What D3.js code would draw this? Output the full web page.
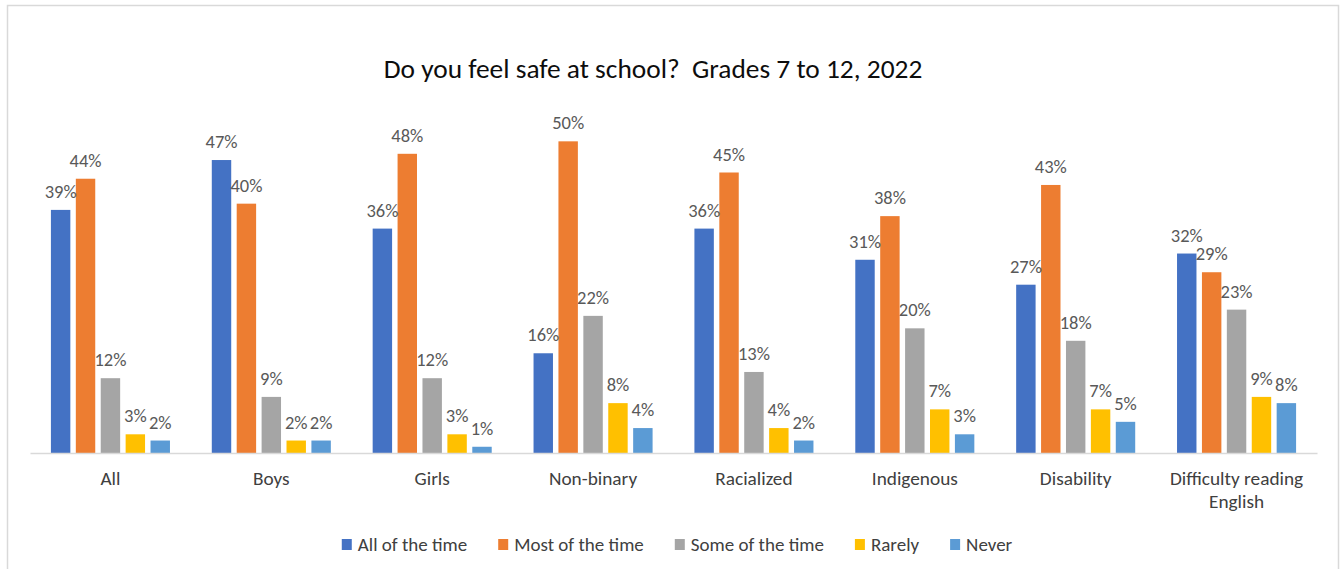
<!DOCTYPE html>
<html>
<head>
<meta charset="utf-8">
<script src="https://cdn.jsdelivr.net/npm/d3@7"></script>
<style>
  body { margin: 0; background: #fff; }
  svg text { font-family: Calibri, Carlito, "Open Sans", "Noto Sans", sans-serif; }
</style>
</head>
<body>
<div id="main"></div>
<script>
// data
var categories = ["All", "Boys", "Girls", "Non-binary", "Racialized", "Indigenous", "Disability", "Difficulty reading English"];
var seriesNames = ["All of the time", "Most of the time", "Some of the time", "Rarely", "Never"];
var allOfTheTime  = [39, 47, 36, 16, 36, 31, 27, 32];
var mostOfTheTime = [44, 40, 48, 50, 45, 38, 43, 29];
var someOfTheTime = [12, 9, 12, 22, 13, 20, 18, 23];
var rarely        = [3, 2, 3, 8, 4, 7, 7, 9];
var never         = [2, 2, 1, 4, 2, 3, 5, 8];
var seriesValues = [allOfTheTime, mostOfTheTime, someOfTheTime, rarely, never];
var colors = ["#4472c4", "#ed7d31", "#a5a5a5", "#ffc000", "#5b9bd5"];

var width = 1344;
var height = 569;

var svg = d3.select('#main')
  .append('svg')
  .attr('width', width)
  .attr('height', height);

// chart border
svg.append('rect')
  .attr('x', 7.5)
  .attr('y', 5.5)
  .attr('width', 1331)
  .attr('height', 580)
  .attr('fill', '#fff')
  .attr('stroke', '#d9d9d9')
  .attr('stroke-width', 1.5);

svg.append('text')
  .attr('x', 653)
  .attr('y', 78)
  .attr('text-anchor', 'middle')
  .attr('font-size', 27.4)
  .attr('fill', '#0d0d0d')
  .attr('xml:space', 'preserve')
  .text("Do you feel safe at school?  Grades 7 to 12, 2022");

var x0 = d3.scaleBand()
  .domain(categories)
  .range([30, 1317])
  .paddingInner(0.26)
  .paddingOuter(0.13);

var x1 = d3.scaleBand()
  .domain(seriesNames)
  .range([0, x0.bandwidth()])
  .paddingInner(0.22);

var y = d3.scaleLinear()
  .domain([0, 60])
  .range([453, 79]);

var groups = svg.append('g').selectAll('g')
  .data(categories)
  .enter().append('g')
  .attr('transform', function(d) { return 'translate(' + x0(d) + ',0)'; });

groups.selectAll('rect')
  .data(function(d, i) {
    return seriesNames.map(function(s, j) { return { series: s, value: seriesValues[j][i], color: colors[j] }; });
  })
  .enter().append('rect')
  .attr('x', function(d) { return x1(d.series); })
  .attr('y', function(d) { return y(d.value); })
  .attr('width', x1.bandwidth())
  .attr('height', function(d) { return y(0) - y(d.value); })
  .attr('fill', function(d) { return d.color; });

groups.selectAll('text.lbl')
  .data(function(d, i) {
    return seriesNames.map(function(s, j) { return { series: s, value: seriesValues[j][i] }; });
  })
  .enter().append('text')
  .attr('class', 'lbl')
  .attr('x', function(d) { return x1(d.series) + x1.bandwidth() / 2; })
  .attr('y', function(d) { return y(d.value) - 12; })
  .attr('text-anchor', 'middle')
  .attr('font-size', 18.5)
  .attr('fill', '#595959')
  .text(function(d) { return d.value + '%'; });

// x axis
var xAxis = svg.append('g')
  .attr('transform', 'translate(0,' + y(0) + ')')
  .call(d3.axisBottom(x0).tickSize(0).tickFormat(''));
xAxis.select('.domain').attr('stroke', '#d9d9d9').attr('stroke-width', 1.5);

var catLabels = svg.append('g').selectAll('text')
  .data(categories)
  .enter().append('text')
  .attr('x', function(d) { return x0(d) + x0.bandwidth() / 2; })
  .attr('y', 485)
  .attr('text-anchor', 'middle')
  .attr('font-size', 19.3)
  .attr('fill', '#404040');

catLabels.each(function(d) {
  var t = d3.select(this);
  var lines = d === "Difficulty reading English" ? ["Difficulty reading", "English"] : [d];
  lines.forEach(function(l, i) {
    t.append('tspan')
      .attr('x', t.attr('x'))
      .attr('dy', i === 0 ? 0 : 23)
      .text(l);
  });
});

// legend
var legend = svg.append('g').attr('class', 'legend');
var lx = 0;
seriesNames.forEach(function(s, i) {
  var item = legend.append('g').attr('transform', 'translate(' + lx + ',0)');
  item.append('rect')
    .attr('x', 0)
    .attr('y', 539)
    .attr('width', 10)
    .attr('height', 11)
    .attr('fill', colors[i]);
  var txt = item.append('text')
    .attr('x', 16)
    .attr('y', 551)
    .attr('font-size', 19)
    .attr('fill', '#404040')
    .text(s);
  lx += 16 + txt.node().getComputedTextLength() + (i < seriesNames.length - 1 ? 31 : 0);
});
legend.attr('transform', 'translate(' + (677 - lx / 2) + ',0)');
</script>
</body>
</html>
